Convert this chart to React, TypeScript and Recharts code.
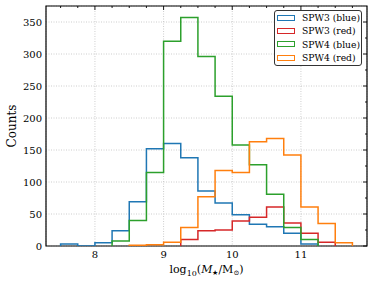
import React from 'react';
import { LineChart, Line, XAxis, YAxis, CartesianGrid, Legend, Label, ReferenceArea, ReferenceLine } from 'recharts';

// histogram bins (left edges + final right edge), width 0.25 dex
const binEdges = [7.5, 7.75, 8.0, 8.25, 8.5, 8.75, 9.0, 9.25, 9.5, 9.75, 10.0, 10.25, 10.5, 10.75, 11.0, 11.25, 11.5, 11.75];

const spw3Blue = [3, 0, 5, 24, 69, 152, 160, 138, 86, 67, 49, 34, 30, 20, 3, 0, 0];
const spw3Red = [0, 0, 0, 0, 0, 0, 0, 10, 24, 25, 39, 45, 61, 36, 20, 6, 0];
const spw4Blue = [0, 0, 0, 8, 40, 115, 320, 357, 296, 234, 158, 127, 81, 29, 10, 0, 0];
const spw4Red = [0, 0, 0, 0, 1, 2, 6, 29, 77, 118, 115, 163, 168, 142, 61, 35, 5];

const seriesNames = ['SPW3 (blue)', 'SPW3 (red)', 'SPW4 (blue)', 'SPW4 (red)'];
const seriesColors = ['#1f77b4', '#d62728', '#2ca02c', '#ff7f0e'];

const xMajor = [8, 9, 10, 11];
const xMinor = [7.5, 7.75, 8.25, 8.5, 8.75, 9.25, 9.5, 9.75, 10.25, 10.5, 10.75, 11.25, 11.5, 11.75];
const yMajor = [0, 50, 100, 150, 200, 250, 300, 350];
const yMinor = [25, 75, 125, 175, 225, 275, 325];

const xDomain: [number, number] = [7.2875, 11.9625];
const yDomain: [number, number] = [0, 375];

const W = 374;
const H = 283;
const M = { top: 6, right: 7, bottom: 0, left: 0 };
const Y_AXIS_W = 46;
const X_AXIS_H = 37;
const plotW = W - M.left - M.right - Y_AXIS_W;
const plotH = H - M.top - M.bottom - X_AXIS_H;
// data units per pixel, used for the inward ticks on the top and right frame
const xPerPx = (xDomain[1] - xDomain[0]) / plotW;
const yPerPx = (yDomain[1] - yDomain[0]) / plotH;

const FONT = "'DejaVu Serif', serif";

// outline of a step histogram: up from the baseline, along the bins, back down
function stepPoints(counts: number[]) {
  const first = counts.findIndex((c) => c > 0);
  let last = counts.length - 1;
  while (last > first && counts[last] === 0) last--;
  const pts = [{ x: binEdges[first], y: 0 }];
  for (let i = first; i <= last; i++) pts.push({ x: binEdges[i], y: counts[i] });
  pts.push({ x: binEdges[last + 1], y: 0 });
  return pts;
}

const allSeries = [spw3Blue, spw3Red, spw4Blue, spw4Red];

const renderLegend = () => (
  <div
    style={{
      boxSizing: 'border-box',
      width: 88,
      border: '1px solid #333',
      borderRadius: 3,
      background: '#fff',
      padding: '0 0 0 2px',
      fontFamily: FONT,
      fontSize: 9.2,
      lineHeight: '13.4px',
      color: '#000',
      whiteSpace: 'nowrap',
    }}
  >
    {seriesNames.map((name, i) => (
      <div key={name} style={{ display: 'flex', alignItems: 'center', height: 13.4 }}>
        <span
          style={{
            display: 'inline-block',
            flexShrink: 0,
            boxSizing: 'border-box',
            width: 18,
            height: 6,
            border: `1.5px solid ${seriesColors[i]}`,
            marginRight: 7,
          }}
        />
        <span>{name}</span>
      </div>
    ))}
  </div>
);

const XTitle = (props: any) => {
  const { viewBox } = props;
  const cx = viewBox.x + viewBox.width / 2;
  return (
    <text x={cx} y={viewBox.y + 27} textAnchor="middle" fontFamily={FONT} fontSize={11} fill="#000">
      <tspan>log</tspan>
      <tspan fontSize={8} dy={3}>10</tspan>
      <tspan dy={-3}>(</tspan>
      <tspan fontStyle="italic">M</tspan>
      <tspan fontSize={7} dy={2}>★</tspan>
      <tspan dy={-2}>/M</tspan>
      <tspan fontSize={7} dy={2}>⊙</tspan>
      <tspan dy={-2}>)</tspan>
    </text>
  );
};

const YTitle = (props: any) => {
  const { viewBox } = props;
  const cy = viewBox.y + viewBox.height / 2;
  const x = 16;
  return (
    <text
      x={x}
      y={cy}
      textAnchor="middle"
      fontFamily={FONT}
      fontSize={12}
      fill="#000"
      transform={`rotate(-90, ${x}, ${cy})`}
    >
      Counts
    </text>
  );
};

const tickStroke = { stroke: '#000', strokeWidth: 0.9 };

export default function App() {
  return (
    <div style={{ position: 'absolute', left: 0, top: 0, background: '#fff' }}>
      <LineChart width={W} height={H} margin={M}>
        <CartesianGrid
          xAxisId="x"
          yAxisId="y"
          stroke="#b8b8b8"
          strokeWidth={0.7}
          strokeDasharray="1 1.5"
          fill="none"
        />
        {/* labelled axes */}
        <XAxis
          xAxisId="x"
          type="number"
          dataKey="x"
          domain={xDomain}
          ticks={xMajor}
          allowDataOverflow
          height={X_AXIS_H}
          tickSize={0}
          tickMargin={5}
          tickLine={false}
          axisLine={false}
          tick={{ fontFamily: FONT, fontSize: 10, fill: '#000' }}
        >
          <Label content={XTitle} />
        </XAxis>
        <YAxis
          yAxisId="y"
          type="number"
          domain={yDomain}
          ticks={yMajor}
          allowDataOverflow
          width={Y_AXIS_W}
          tickSize={0}
          tickMargin={4}
          tickLine={false}
          axisLine={false}
          tick={{ fontFamily: FONT, fontSize: 10, fill: '#000' }}
        >
          <Label content={YTitle} />
        </YAxis>
        {/* inward major / minor ticks, bottom and left */}
        <XAxis xAxisId="bMaj" type="number" domain={xDomain} ticks={xMajor} allowDataOverflow mirror height={0} tickSize={4} tick={false} tickLine={tickStroke} axisLine={false} />
        <XAxis xAxisId="bMin" type="number" domain={xDomain} ticks={xMinor} allowDataOverflow mirror height={0} tickSize={2} tick={false} tickLine={tickStroke} axisLine={false} />
        <YAxis yAxisId="lMaj" type="number" domain={yDomain} ticks={yMajor} allowDataOverflow mirror width={0} tickSize={4} tick={false} tickLine={tickStroke} axisLine={false} />
        <YAxis yAxisId="lMin" type="number" domain={yDomain} ticks={yMinor} allowDataOverflow mirror width={0} tickSize={2} tick={false} tickLine={tickStroke} axisLine={false} />

        {allSeries.map((counts, i) => (
          <Line
            key={seriesNames[i]}
            xAxisId="x"
            yAxisId="y"
            data={stepPoints(counts)}
            dataKey="y"
            name={seriesNames[i]}
            type="stepAfter"
            stroke={seriesColors[i]}
            strokeWidth={1.5}
            dot={false}
            activeDot={false}
            isAnimationActive={false}
          />
        ))}

        {/* inward ticks, top and right */}
        {[...xMajor, ...xMinor].map((t) => (
          <ReferenceLine
            key={`tx${t}`}
            xAxisId="x"
            yAxisId="y"
            segment={[
              { x: t, y: yDomain[1] },
              { x: t, y: yDomain[1] - (xMajor.includes(t) ? 4 : 2) * yPerPx },
            ]}
            stroke="#000"
            strokeWidth={0.9}
            ifOverflow="visible"
          />
        ))}
        {[...yMajor, ...yMinor].map((t) => (
          <ReferenceLine
            key={`ty${t}`}
            xAxisId="x"
            yAxisId="y"
            segment={[
              { x: xDomain[1], y: t },
              { x: xDomain[1] - (yMajor.includes(t) ? 4 : 2) * xPerPx, y: t },
            ]}
            stroke="#000"
            strokeWidth={0.9}
            ifOverflow="visible"
          />
        ))}

        {/* axes frame */}
        <ReferenceArea
          xAxisId="x"
          yAxisId="y"
          x1={xDomain[0]}
          x2={xDomain[1]}
          y1={yDomain[0]}
          y2={yDomain[1]}
          fill="none"
          fillOpacity={0}
          stroke="#000"
          strokeWidth={1.2}
          ifOverflow="visible"
        />
        <Legend
          layout="vertical"
          align="center"
          verticalAlign="middle"
          width={88}
          wrapperStyle={{ top: 10, left: 274, width: 88 }}
          content={renderLegend}
        />
      </LineChart>
    </div>
  );
}
